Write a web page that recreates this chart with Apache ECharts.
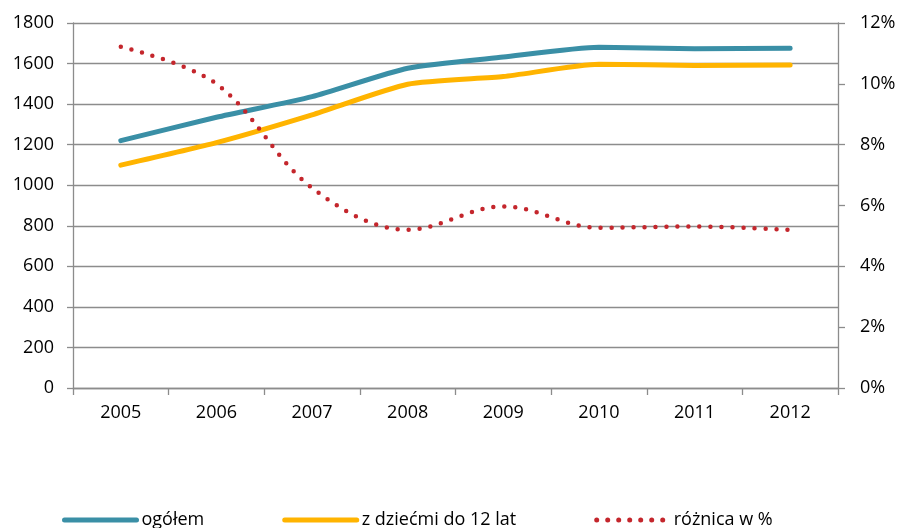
<!DOCTYPE html>
<html lang="pl">
<head>
    <meta charset="UTF-8">
    <title>ogółem / z dziećmi do 12 lat</title>
    <style>
        html, body { margin: 0; padding: 0; background: #fff; }
        #chart { width: 899px; height: 528px; }
    </style>
</head>
<body>
    <div id="chart"></div>
    <script src="https://cdn.jsdelivr.net/npm/echarts@6/dist/echarts.min.js"></script>
    <script type="text/javascript">
        var years = ['2005', '2006', '2007', '2008', '2009', '2010', '2011', '2012'];
        var ogolem = [1220, 1335, 1437, 1577, 1632, 1680, 1673, 1675];
        var zDziecmi = [1099, 1210, 1347, 1498, 1536, 1596, 1591, 1593];
        var roznica = [11.22, 10.0, 6.58, 5.2, 5.97, 5.27, 5.31, 5.2];

        var font = 'Open Sans';
        var gridColor = '#8c8c8c';

        var myChart = echarts.init(document.getElementById('chart'));
        myChart.setOption({
            animation: false,
            textStyle: { fontFamily: font },
            grid: { left: 73, right: 61, top: 23, bottom: 140, containLabel: false },
            legend: {
                left: 57,
                top: 506,
                itemWidth: 72,
                itemHeight: 12,
                itemGap: 78,
                itemStyle: { opacity: 0 },
                lineStyle: { width: 5, cap: 'round' },
                textStyle: { fontFamily: font, fontSize: 18, color: '#000' },
                data: ['ogółem', 'z dziećmi do 12 lat', 'różnica w %']
            },
            xAxis: {
                type: 'category',
                data: years,
                boundaryGap: true,
                axisLine: { lineStyle: { color: gridColor, width: 1.3 } },
                axisTick: { show: true, length: 7, lineStyle: { color: gridColor, width: 1.3 } },
                axisLabel: { fontFamily: font, fontSize: 18, color: '#000', margin: 16 }
            },
            yAxis: [{
                type: 'value',
                min: 0,
                max: 1800,
                interval: 200,
                axisLine: { show: true, lineStyle: { color: gridColor, width: 1.3 } },
                axisTick: { show: true, length: 6, lineStyle: { color: gridColor, width: 1.3 } },
                splitLine: { show: true, lineStyle: { color: gridColor, width: 1.3 } },
                axisLabel: {
                    fontFamily: font, fontSize: 18, color: '#000', margin: 19,
                    formatter: function (v) { return String(v); }
                }
            }, {
                type: 'value',
                position: 'right',
                min: 0,
                max: 12,
                interval: 2,
                axisLine: { show: true, lineStyle: { color: gridColor, width: 1.3 } },
                axisTick: { show: true, length: 7, lineStyle: { color: gridColor, width: 1.3 } },
                splitLine: { show: false },
                axisLabel: { fontFamily: font, fontSize: 18, color: '#000', margin: 22, formatter: '{value}%' }
            }],
            series: [{
                name: 'ogółem',
                type: 'line',
                yAxisIndex: 0,
                data: ogolem,
                smooth: 0.2,
                symbol: 'none',
                color: '#3a8fa6',
                lineStyle: { width: 5, color: '#3a8fa6', cap: 'round' }
            }, {
                name: 'z dziećmi do 12 lat',
                type: 'line',
                yAxisIndex: 0,
                data: zDziecmi,
                smooth: 0.2,
                symbol: 'none',
                color: '#ffb400',
                lineStyle: { width: 5, color: '#ffb400', cap: 'round' }
            }, {
                name: 'różnica w %',
                type: 'line',
                yAxisIndex: 1,
                data: roznica,
                smooth: 0.35,
                symbol: 'none',
                color: '#c4262c',
                lineStyle: { width: 4.5, color: '#c4262c', type: [0, 11], cap: 'round' }
            }]
        });
    </script>
</body>
</html>
